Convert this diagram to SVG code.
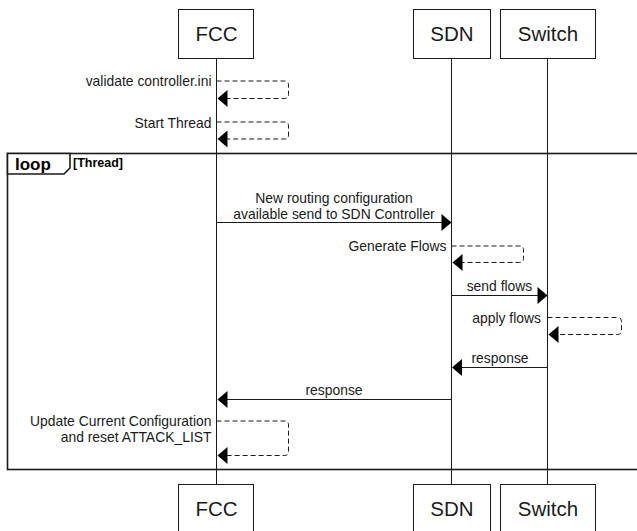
<svg xmlns="http://www.w3.org/2000/svg" width="637" height="531" viewBox="0 0 637 531">
  <style>
    .box { fill: #ffffff; stroke: #1a1a1a; stroke-width: 1; }
    .life { stroke: #1a1a1a; stroke-width: 1; fill: none; }
    .pname { font-family: "Liberation Sans", Arial, sans-serif; font-size: 20.5px; fill: #1a1a1a; text-anchor: middle; }
    .msg { font-family: "Liberation Sans", Arial, sans-serif; font-size: 13.9px; fill: #1a1a1a; }
    .solid { stroke: #1a1a1a; stroke-width: 1; fill: none; }
    .dash { stroke: #1a1a1a; stroke-width: 1; fill: none; stroke-dasharray: 5 3; }
    .head { fill: #000000; stroke: none; }
    .frame { fill: none; stroke: #1a1a1a; stroke-width: 1.6; }
    .ftab { fill: #ffffff; stroke: #1a1a1a; stroke-width: 1.6; }
    .flabel { font-family: "Liberation Sans", Arial, sans-serif; font-weight: bold; fill: #000000; }
  </style>

  <!-- loop frame -->
  <g id="loop-frame">
    <rect class="frame" x="7.5" y="153.5" width="640" height="316"/>
    <path class="ftab" d="M7.5,153.5 H70 V168 L64,174 H7.5 Z"/>
    <text class="flabel" x="15" y="170" font-size="17px">loop</text>
    <text class="flabel" x="73" y="167" font-size="12.5px">[Thread]</text>
  </g>

  <!-- lifelines -->
  <g id="lifelines">
    <line class="life" x1="216.5" y1="58.5" x2="216.5" y2="484.5"/>
    <line class="life" x1="451.5" y1="58.5" x2="451.5" y2="484.5"/>
    <line class="life" x1="547.5" y1="58.5" x2="547.5" y2="484.5"/>
  </g>

  <!-- participants -->
  <g id="FCC">
    <rect class="box" x="178.5" y="9.5" width="75" height="49"/>
    <text class="pname" x="216.5" y="41">FCC</text>
    <rect class="box" x="178.5" y="484.5" width="75" height="49"/>
    <text class="pname" x="216.5" y="516">FCC</text>
  </g>
  <g id="SDN">
    <rect class="box" x="413.5" y="9.5" width="77" height="49"/>
    <text class="pname" x="452" y="41">SDN</text>
    <rect class="box" x="413.5" y="484.5" width="77" height="49"/>
    <text class="pname" x="452" y="516">SDN</text>
  </g>
  <g id="Switch">
    <rect class="box" x="500.5" y="9.5" width="95" height="49"/>
    <text class="pname" x="548" y="41">Switch</text>
    <rect class="box" x="500.5" y="484.5" width="95" height="49"/>
    <text class="pname" x="548" y="516">Switch</text>
  </g>

  <!-- messages -->
  <g id="connectors">
    <!-- FCC self: validate controller.ini -->
    <path class="dash" d="M216.5,81 H284.5 Q288.5,81 288.5,85 V94.5 Q288.5,98.5 284.5,98.5 H219"/>
    <polygon class="head" points="217.5,98.5 227.5,90 227.5,107"/>
    <text class="msg" x="211.5" y="86" text-anchor="end">validate controller.ini</text>

    <!-- FCC self: Start Thread -->
    <path class="dash" d="M216.5,122 H284.5 Q288.5,122 288.5,126 V135 Q288.5,139 284.5,139 H219"/>
    <polygon class="head" points="217.5,139 227.5,130.5 227.5,147.5"/>
    <text class="msg" x="211.5" y="127.5" text-anchor="end">Start Thread</text>

    <!-- FCC -> SDN -->
    <line class="solid" x1="216.5" y1="222.5" x2="443" y2="222.5"/>
    <polygon class="head" points="451.5,222.5 441.5,214 441.5,231"/>
    <text class="msg" x="334" y="203" text-anchor="middle">New routing configuration</text>
    <text class="msg" x="334" y="218.5" text-anchor="middle">available send to SDN Controller</text>

    <!-- SDN self: Generate Flows -->
    <path class="dash" d="M451.5,246 H519.5 Q523.5,246 523.5,250 V258.5 Q523.5,262.5 519.5,262.5 H454"/>
    <polygon class="head" points="452.5,262.5 462.5,254 462.5,271"/>
    <text class="msg" x="446.5" y="251" text-anchor="end">Generate Flows</text>

    <!-- SDN -> Switch -->
    <line class="solid" x1="451.5" y1="295.5" x2="539" y2="295.5"/>
    <polygon class="head" points="547.5,295.5 537.5,287 537.5,304"/>
    <text class="msg" x="499.5" y="291" text-anchor="middle">send flows</text>

    <!-- Switch self: apply flows -->
    <path class="dash" d="M547.5,317.5 H617.5 Q621.5,317.5 621.5,321.5 V330.5 Q621.5,334.5 617.5,334.5 H550"/>
    <polygon class="head" points="548.5,334.5 558.5,326 558.5,343"/>
    <text class="msg" x="541" y="322.5" text-anchor="end">apply flows</text>

    <!-- Switch -> SDN -->
    <line class="solid" x1="547.5" y1="367.5" x2="460" y2="367.5"/>
    <polygon class="head" points="452,367.5 462,359 462,376"/>
    <text class="msg" x="500" y="362.5" text-anchor="middle">response</text>

    <!-- SDN -> FCC -->
    <line class="solid" x1="451.5" y1="399.5" x2="226" y2="399.5"/>
    <polygon class="head" points="217.5,399.5 227.5,391 227.5,408"/>
    <text class="msg" x="334" y="394.5" text-anchor="middle">response</text>

    <!-- FCC self: Update Current Configuration -->
    <path class="dash" d="M216.5,421 H284.5 Q288.5,421 288.5,425 V451.5 Q288.5,455.5 284.5,455.5 H219"/>
    <polygon class="head" points="217.5,455.5 227.5,447 227.5,464"/>
    <text class="msg" x="211.5" y="426" text-anchor="end">Update Current Configuration</text>
    <text class="msg" x="211.5" y="442" text-anchor="end">and reset ATTACK_LIST</text>
  </g>
</svg>
